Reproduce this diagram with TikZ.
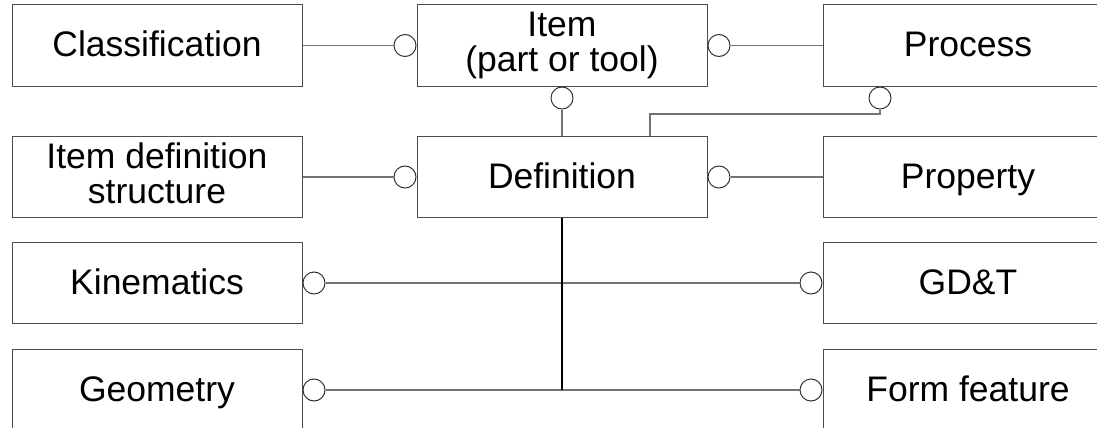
\documentclass[tikz,border=0pt]{standalone}
\usepackage{fontspec}
\setmainfont{Liberation Sans}
\usetikzlibrary{positioning,calc}
\tikzset{
  entity/.style={
    rectangle,
    draw=black!70, line width=1pt,
    fill=white,
    minimum width=290pt,
    minimum height=81pt,
    inner sep=0pt,
    align=center,
    font=\fontsize{35.5}{35}\selectfont},
  oneline/.style={text height=24pt, text depth=2pt},
  ring/.style={
    circle,
    draw=black!80, line width=1pt,
    fill=white,
    minimum size=22pt,
    inner sep=0pt},
}

\begin{document}
\begin{tikzpicture}[
    x=1pt, y=-1pt,
    link/.style={draw=black!55, line width=1.2pt},
    bus/.style={draw=black, line width=1.6pt}
    ]
	\useasboundingbox (0,0) rectangle (1097,428);

	\node[entity, oneline] (classif) at (157,45.5) {Classification};
	\node[entity] (item) at (562,45.5) {Item\\(part or tool)};
	\node[entity, oneline] (process) at (968,45.5) {Process};
	\node[entity] (idstruct) at (157,177) {Item definition\\structure\vphantom{(}};
	\node[entity, oneline] (definition) at (562,177) {Definition};
	\node[entity, oneline] (property) at (968,177) {Property};
	\node[entity, oneline] (kinem) at (157,283) {Kinematics};
	\node[entity, oneline] (gdt) at (968,283) {GD\&T};
	\node[entity, oneline] (geometry) at (157,390) {Geometry};
	\node[entity, oneline] (formfeat) at (968,390) {Form feature};

	\node[ring, left=0pt of item] (item-l) {};
	\node[ring, right=0pt of item] (item-r) {};
	\node[ring, below=0pt of item] (item-b) {};
	\node[ring, anchor=north] (proc-b) at ([xshift=-88pt]process.south) {};
	\node[ring, left=0pt of definition] (def-l) {};
	\node[ring, right=0pt of definition] (def-r) {};
	\node[ring, right=0pt of kinem] (kin-r) {};
	\node[ring, left=0pt of gdt] (gdt-l) {};
	\node[ring, right=0pt of geometry] (geo-r) {};
	\node[ring, left=0pt of formfeat] (ff-l) {};

	\draw[link] (classif) -- (item-l);
	\draw[link] (item-r) -- (process);
	\draw[link] (item-b) -- (definition);
	\draw[link] ([xshift=88pt]definition.north) -- ++(0,-22) -| (proc-b);
	\draw[link] (idstruct) -- (def-l);
	\draw[link] (def-r) -- (property);
	\draw[link] (kin-r) -- (gdt-l);
	\draw[link] (geo-r) -- (ff-l);
	\draw[bus] (definition) -- (definition |- geo-r);

\end{tikzpicture}
\end{document}
